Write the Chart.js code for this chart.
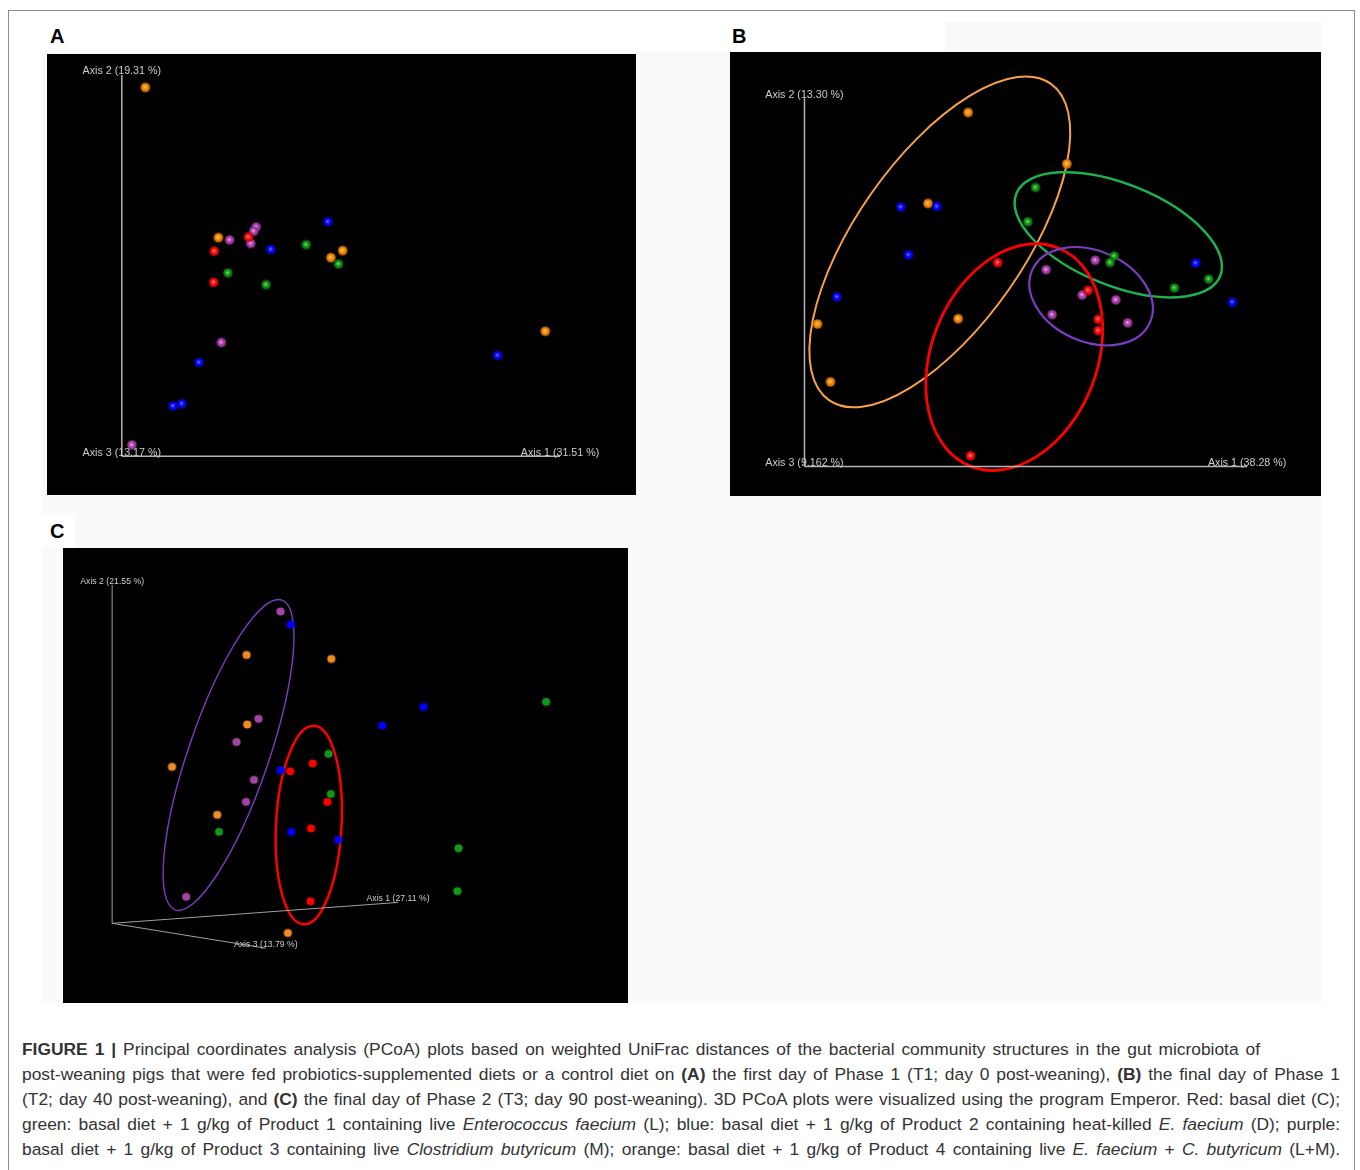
<!DOCTYPE html>
<html>
<head>
<meta charset="utf-8">
<script src="https://cdn.jsdelivr.net/npm/chart.js@4.4.1/dist/chart.umd.min.js"></script>
<style>
  html, body { margin: 0; padding: 0; background: #fff; }
  body { width: 1360px; height: 1170px; position: relative; overflow: hidden; font-family: "Liberation Sans", Arial, sans-serif; }
  .frame { position: absolute; left: 8px; top: 10px; width: 1347px; height: 1200px; border: 1.5px solid #8c8c8c; box-sizing: border-box; }
  .shade { position: absolute; background: #f9f9f9; }
  .white { position: absolute; background: #fff; }
  .panel { position: absolute; background: #000; }
  .panel canvas { display: block; }
  .tag { position: absolute; font-weight: bold; font-size: 20px; line-height: 20px; color: #000; }
  .caption { position: absolute; left: 22px; width: 1318px; top: 1037px; font-family: "Liberation Sans", Arial, sans-serif; font-size: 17.4px; line-height: 25px; color: #333; }
  .caption .first { word-spacing: 2.1px; }
  .caption .j { text-align: justify; text-align-last: justify; }
</style>
</head>
<body>
<div class="frame"></div>
<div class="shade" style="left:42px; top:52px; width:1280px; height:951px;"></div>
<div class="shade" style="left:945px; top:22px; width:377px; height:30px;"></div>
<div class="white" style="left:42px; top:515px; width:33px; height:32px;"></div>

<div class="tag" style="left:50px; top:26px;">A</div>
<div class="tag" style="left:732px; top:26px;">B</div>
<div class="tag" style="left:50px; top:521px;">C</div>

<div class="panel" style="left:47px; top:54px; width:589px; height:441px;"><canvas id="chartA" width="589" height="441"></canvas></div>
<div class="panel" style="left:730px; top:52px; width:591px; height:444px;"><canvas id="chartB" width="591" height="444"></canvas></div>
<div class="panel" style="left:63px; top:548px; width:565px; height:455px;"><canvas id="chartC" width="565" height="455"></canvas></div>

<div class="caption">
  <div class="first"><b>FIGURE 1 |</b> Principal coordinates analysis (PCoA) plots based on weighted UniFrac distances of the bacterial community structures in the gut microbiota of</div>
  <div class="j">post-weaning pigs that were fed probiotics-supplemented diets or a control diet on <b>(A)</b> the first day of Phase 1 (T1; day 0 post-weaning), <b>(B)</b> the final day of Phase 1</div>
  <div class="j">(T2; day 40 post-weaning), and <b>(C)</b> the final day of Phase 2 (T3; day 90 post-weaning). 3D PCoA plots were visualized using the program Emperor. Red: basal diet (C);</div>
  <div class="j">green: basal diet + 1 g/kg of Product 1 containing live <i>Enterococcus faecium</i> (L); blue: basal diet + 1 g/kg of Product 2 containing heat-killed <i>E. faecium</i> (D); purple:</div>
  <div class="j">basal diet + 1 g/kg of Product 3 containing live <i>Clostridium butyricum</i> (M); orange: basal diet + 1 g/kg of Product 4 containing live <i>E. faecium</i> + <i>C. butyricum</i> (L+M).</div>
</div>

<script>
// groups in caption order
const groups = ['C', 'L', 'D', 'M', 'L+M'];

// Panel A - T1 (day 0)
const a_red    = [[34.2, 43.8], [28.4, 41.4], [28.3, 36.1]];
const a_green  = [[44.0, 42.5], [49.5, 39.2], [30.7, 37.7], [37.2, 35.7]];
const a_blue   = [[47.7, 46.4], [38.0, 41.7], [25.8, 22.5], [22.9, 15.5], [21.4, 15.1], [76.5, 23.7]];
const a_purple = [[35.5, 45.5], [35.1, 44.8], [31.0, 43.3], [34.6, 42.7], [29.6, 25.9], [14.4, 8.5]];
const a_orange = [[16.7, 69.2], [29.1, 43.7], [48.2, 40.3], [50.2, 41.5], [84.6, 27.8]];
const a_axes = { origin: [12.7, 6.6], axis1: [87.1, 6.6], axis2: [12.7, 71.3], axis3: [12.7, 6.6] };
const a_axisLabels = ['Axis 1 (31.51 %)', 'Axis 2 (19.31 %)', 'Axis 3 (13.17 %)'];

// Panel B - T2 (day 40)
const b_red    = [[45.3, 39.5], [60.6, 34.8], [62.3, 29.9], [62.3, 28.0], [40.7, 6.8]];
const b_green  = [[51.7, 52.2], [50.4, 46.4], [65.0, 40.6], [64.3, 39.5], [81.0, 36.7], [75.2, 35.2]];
const b_blue   = [[28.9, 48.9], [35.0, 49.0], [30.2, 40.8], [18.1, 33.7], [78.8, 39.4], [85.0, 32.8]];
const b_purple = [[61.8, 39.9], [53.5, 38.3], [59.6, 34.0], [65.3, 33.2], [54.5, 30.7], [67.3, 29.3]];
const b_orange = [[40.3, 64.9], [57.0, 56.2], [33.5, 49.5], [14.8, 29.1], [38.6, 30.0], [17.0, 19.3]];
const b_axes = { origin: [12.6, 5.0], axis1: [87.5, 5.0], axis2: [12.6, 67.3], axis3: [12.6, 5.0] };
const b_axisLabels = ['Axis 1 (38.28 %)', 'Axis 2 (13.30 %)', 'Axis 3 (9.162 %)'];
// group ellipses: [centre x, centre y, semi-major, semi-minor, angle deg]
const b_ellipses = { 'L+M': [35.5, 43.0, 32.7, 14.2, 55], L: [65.7, 44.2, 18.6, 8.6, -22], C: [48.1, 23.5, 19.9, 14.0, 68], M: [61.1, 33.8, 10.9, 7.7, -24] };

// Panel C - T3 (day 90)
const c_red    = [[44.2, 42.4], [40.2, 41.0], [46.8, 35.6], [43.9, 30.9], [43.8, 18.0]];
const c_green  = [[85.5, 53.3], [47.0, 44.1], [47.4, 37.0], [27.6, 30.3], [70.0, 27.4], [69.8, 19.8]];
const c_blue   = [[40.3, 67.0], [63.8, 52.4], [56.5, 49.1], [38.5, 41.2], [40.4, 30.3], [48.7, 28.9]];
const c_purple = [[38.5, 69.3], [34.6, 50.3], [30.7, 46.2], [33.8, 39.5], [32.4, 35.6], [21.8, 18.8]];
const c_orange = [[32.5, 61.6], [47.5, 60.9], [32.6, 49.3], [19.3, 41.8], [27.3, 33.3], [39.8, 12.4]];
const c_axes = { origin: [8.7, 14.1], axis1: [59.3, 17.8], axis2: [8.7, 74.0], axis3: [35.9, 9.7] };
const c_axisLabels = ['Axis 1 (27.11 %)', 'Axis 2 (21.55 %)', 'Axis 3 (13.79 %)'];
const c_ellipses = { M: [29.3, 43.9, 29.0, 7.1, 71], C: [43.5, 31.5, 17.6, 5.8, 87] };

const sphereColors = {
    'C':   ['#ffa0a0', '#ff1010', '#c00000'],
    'L':   ['#80e080', '#1a9c1e', '#006000'],
    'D':   ['#8080ff', '#0a0aff', '#0000b8'],
    'M':   ['#f8b0f8', '#b448b4', '#7a2a7a'],
    'L+M': ['#ffdc98', '#ff9008', '#c06400']
};
const flatColors = { 'C': '#ff0000', 'L': '#119a19', 'D': '#0000ff', 'M': '#a444a4', 'L+M': '#f28a22' };
const ringColors = { 'C': '#ff0000', 'L': '#1fb24c', 'M': '#7a3cc0', 'L+M': '#f7a24a' };

function sphere(cols, r, glossy) {
    const c = document.createElement('canvas');
    const s = Math.ceil(r * 2 + 2);
    c.width = s;
    c.height = s;
    const g = c.getContext('2d');
    const m = s / 2;
    if (glossy) {
        const grad = g.createRadialGradient(m - 0.5, m - 0.5, 0, m, m, r);
        grad.addColorStop(0, cols[0]);
        grad.addColorStop(0.45, cols[1]);
        grad.addColorStop(1, cols[2]);
        g.fillStyle = grad;
    } else {
        g.fillStyle = cols;
    }
    g.beginPath();
    g.arc(m, m, r, 0, Math.PI * 2);
    g.fill();
    return c;
}

const ellipsePlugin = {
    id: 'ellipses',
    beforeDatasetsDraw(chart, args, opts) {
        if (!opts.items) return;
        const { ctx, scales: { x, y } } = chart;
        const k = x.getPixelForValue(1) - x.getPixelForValue(0);
        ctx.save();
        Object.keys(opts.items).forEach(g => {
            const e = opts.items[g];
            ctx.beginPath();
            ctx.ellipse(x.getPixelForValue(e[0]), y.getPixelForValue(e[1]), e[2] * k, e[3] * k, -e[4] * Math.PI / 180, 0, Math.PI * 2);
            ctx.strokeStyle = ringColors[g];
            ctx.lineWidth = opts.widths[g] || 2.5;
            ctx.stroke();
        });
        ctx.restore();
    }
};

const axisLabelPlugin = {
    id: 'axisLabels',
    afterDatasetsDraw(chart, args, opts) {
        const { ctx, scales: { x, y } } = chart;
        const ends = [opts.axes.axis1, opts.axes.axis2, opts.axes.axis3];
        ctx.save();
        ctx.font = opts.size + 'px "Liberation Sans", Arial, sans-serif';
        ctx.fillStyle = '#cdcdcd';
        ctx.textAlign = 'center';
        ctx.textBaseline = 'middle';
        ends.forEach((p, i) => {
            ctx.fillText(opts.labels[i], x.getPixelForValue(p[0]), y.getPixelForValue(p[1]) - 3.5);
        });
        ctx.restore();
    }
};

function makePanel(id, sets, axes, labels, ellipses, cfg) {
    const canvas = document.getElementById(id);
    const ymax = canvas.height / canvas.width * 100;
    const datasets = [];
    ['axis1', 'axis2', 'axis3'].forEach(a => {
        datasets.push({
            type: 'line',
            data: [axes.origin, axes[a]],
            borderColor: cfg.axisColor,
            borderWidth: cfg.axisWidth,
            pointRadius: 0,
            showLine: true,
            order: 10
        });
    });
    groups.forEach((g, i) => {
        const style = cfg.glossy ? sphere(sphereColors[g], cfg.r, true) : sphere(flatColors[g], cfg.r, false);
        datasets.push({
            label: g,
            data: sets[i],
            pointStyle: style,
            pointRadius: cfg.r,
            order: 1
        });
    });
    new Chart(canvas, {
        type: 'scatter',
        data: { datasets },
        options: {
            responsive: false,
            animation: false,
            devicePixelRatio: 1,
            events: [],
            layout: { padding: 0, autoPadding: false },
            scales: {
                x: { type: 'linear', display: false, min: 0, max: 100 },
                y: { type: 'linear', display: false, min: 0, max: ymax }
            },
            plugins: {
                legend: { display: false },
                tooltip: { enabled: false },
                ellipses: { items: ellipses, widths: cfg.ringWidths || {} },
                axisLabels: { axes, labels, size: cfg.fontSize }
            }
        },
        plugins: [ellipsePlugin, axisLabelPlugin]
    });
}

makePanel('chartA', [a_red, a_green, a_blue, a_purple, a_orange], a_axes, a_axisLabels, null,
    { glossy: true, r: 4.8, axisColor: '#b4b4b4', axisWidth: 1.5, fontSize: 10.7 });
makePanel('chartB', [b_red, b_green, b_blue, b_purple, b_orange], b_axes, b_axisLabels, b_ellipses,
    { glossy: true, r: 4.8, axisColor: '#b4b4b4', axisWidth: 1.5, fontSize: 10.7, ringWidths: { 'L+M': 2, L: 2.5, C: 2.8, M: 2.2 } });
makePanel('chartC', [c_red, c_green, c_blue, c_purple, c_orange], c_axes, c_axisLabels, c_ellipses,
    { glossy: false, r: 4.1, axisColor: '#a0a0a0', axisWidth: 1, fontSize: 8.7, ringWidths: { M: 1.4, C: 2.5 } });
</script>
</body>
</html>
